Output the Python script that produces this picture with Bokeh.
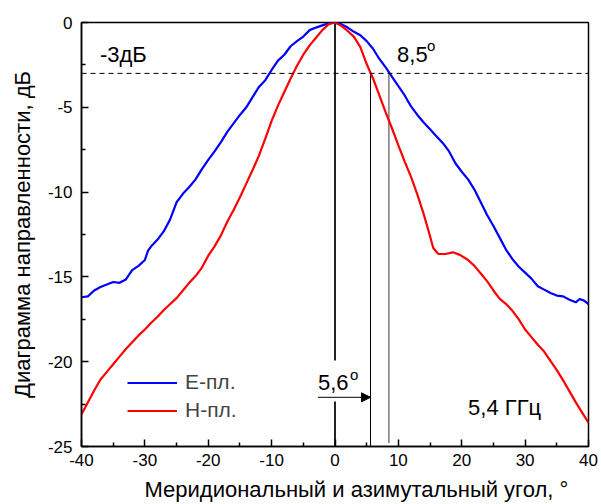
from bokeh.plotting import figure
from bokeh.models import (Range1d, FixedTicker, Legend, LegendItem, Span, Label,
                          Arrow, NormalHead)
from bokeh.embed import file_html
from bokeh.resources import INLINE

# ---- data ----
angle_e = [-40, -39, -38, -37, -36, -35, -34, -33, -32, -31, -30, -29.5, -29, -28, -27,
           -26, -25, -24, -23, -22, -21, -20, -19, -18, -17, -16, -15, -14, -13, -12,
           -11, -10, -9, -8, -7, -6, -5, -4, -3, -2, -1, 0,
           1, 2, 3, 4, 5, 6, 7, 8, 9, 10, 11, 12, 13, 14, 15, 16, 17, 18, 19, 20,
           21, 22, 23, 24, 25, 26, 27, 28, 29, 30, 31, 32, 33, 34, 35, 36, 37, 38,
           38.6, 39.3, 40]
e_plane = [-16.2, -16.15, -15.8, -15.6, -15.45, -15.3, -15.35, -15.15, -14.6, -14.35,
           -14.0, -13.45, -13.2, -12.8, -12.3, -11.6, -10.6, -10.1, -9.7, -9.25, -8.65,
           -8.1, -7.6, -7.05, -6.45, -5.95, -5.45, -5.0, -4.4, -3.8, -3.4, -2.8, -2.25,
           -1.9, -1.4, -1.1, -0.83, -0.45, -0.3, -0.17, -0.05, 0.0,
           -0.1, -0.3, -0.55, -0.75, -1.1, -1.55, -2.15, -2.65, -3.2, -3.75, -4.3,
           -4.95, -5.45, -5.9, -6.3, -6.7, -7.1, -7.6, -8.3, -8.8, -9.25, -9.85, -10.6,
           -11.35, -12.0, -12.7, -13.4, -13.95, -14.4, -14.75, -15.1, -15.55, -15.75,
           -15.95, -16.1, -16.15, -16.35, -16.5, -16.3, -16.4, -16.6]

angle_h = [-40, -39, -38, -37, -36, -35, -34, -33, -32, -31, -30, -29, -28, -27, -26,
           -25, -24, -23, -22, -21, -20, -19, -18, -17, -16, -15, -14, -13, -12, -11,
           -10, -9, -8, -7, -6, -5, -4, -3, -2, -1, 0,
           1, 2, 3, 4, 5, 6, 7, 8, 9, 10, 11, 12, 13, 14, 15, 15.5, 16.3, 17.4, 18.6,
           19.7, 21, 22, 23, 24, 25, 26, 27, 28, 29, 30, 31, 32, 33, 34, 35, 36, 37,
           38, 39, 40]
h_plane = [-23.1, -22.4, -21.7, -21.05, -20.6, -20.15, -19.7, -19.25, -18.85, -18.45,
           -18.1, -17.7, -17.35, -16.95, -16.6, -16.25, -15.8, -15.35, -14.95, -14.45,
           -13.75, -13.2, -12.55, -11.75, -11.05, -10.3, -9.5, -8.7, -7.85, -6.85, -5.8,
           -4.9, -4.1, -3.3, -2.55, -1.9, -1.35, -0.9, -0.45, -0.1, 0.0,
           -0.2, -0.5, -0.85, -1.45, -2.45, -3.3, -4.3, -5.3, -6.25, -7.25, -8.2, -9.1,
           -10.15, -11.3, -12.6, -13.3, -13.65, -13.65, -13.55, -13.7, -14.0, -14.35,
           -14.8, -15.25, -15.8, -16.3, -16.6, -17.0, -17.5, -18.1, -18.55, -19.0,
           -19.4, -19.95, -20.5, -21.1, -21.75, -22.4, -23.0, -23.6]

x_ticks = [-40, -30, -20, -10, 0, 10, 20, 30, 40]
x_tick_labels = ["-40", "-30", "-20", "-10", "0", "10", "20", "30", "40"]
y_ticks = [-25, -20, -15, -10, -5, 0]
y_tick_labels = ["-25", "-20", "-15", "-10", "-5", "0"]

level_3db = -3
width_h = 5.6
width_e = 8.5

FONT = "Liberation Sans"

p = figure(width=601, height=504, output_backend="svg", toolbar_location=None,
           x_range=Range1d(-40, 40), y_range=Range1d(-25, 0),
           min_border_left=81, min_border_right=13, min_border_top=22,
           min_border_bottom=58)
p.background_fill_color = "white"
p.border_fill_color = "white"
p.outline_line_color = "black"
p.outline_line_width = 1.5
p.grid.visible = False

p.xaxis.ticker = FixedTicker(ticks=x_ticks,
                             minor_ticks=[v + 5 for v in x_ticks[:-1]])
p.yaxis.ticker = FixedTicker(ticks=y_ticks,
                             minor_ticks=[v + 2.5 for v in y_ticks[:-1]])
p.xaxis.major_label_overrides = dict(zip(x_ticks, x_tick_labels))
p.yaxis.major_label_overrides = dict(zip(y_ticks, y_tick_labels))

for ax in (p.xaxis[0], p.yaxis[0]):
    ax.axis_line_width = 1.5
    ax.axis_line_color = "black"
    ax.major_tick_line_width = 1.5
    ax.minor_tick_line_width = 1.5
    ax.major_tick_line_color = "black"
    ax.minor_tick_line_color = "black"
    ax.major_tick_in = 7
    ax.major_tick_out = 0
    ax.minor_tick_in = 4
    ax.minor_tick_out = 0
    ax.major_label_text_font = FONT
    ax.major_label_text_font_size = "17px"
    ax.major_label_text_color = "black"
    ax.axis_label_text_font = FONT
    ax.axis_label_text_font_size = "22px"
    ax.axis_label_text_font_style = "normal"
    ax.axis_label_text_color = "black"

p.xaxis.major_label_standoff = 7
p.xaxis.axis_label_standoff = 8
p.yaxis.major_label_standoff = 9
p.yaxis.axis_label_standoff = 10
p.xaxis.axis_label = "\u00a0" * 7 + "Меридиональный и азимутальный угол, °"
p.yaxis.axis_label = "Диаграмма направленности, дБ"

# -3 dB dashed level
p.add_layout(Span(location=level_3db, dimension="width", line_color="black",
                  line_width=1, line_dash="5 4"))

# vertical guide lines
p.segment(x0=[0, 0], y0=[0, -22.35], x1=[0, 0], y1=[-19.93, -25],
          line_color="#222222", line_width=2)
p.segment(x0=[width_h], y0=[level_3db], x1=[width_h], y1=[-25],
          line_color="black", line_width=1)
p.segment(x0=[width_e], y0=[level_3db], x1=[width_e], y1=[-24.8],
          line_color="#7a7a7a", line_width=1.5)

p.add_layout(Arrow(end=NormalHead(size=9, fill_color="black", line_color="black"),
                   x_start=-2.7, y_start=-22.1, x_end=width_h, y_end=-22.1,
                   line_color="black", line_width=1))

re = p.line(angle_e, e_plane, line_color="#0000ff", line_width=2.2)
rh = p.line(angle_h, h_plane, line_color="#ff0000", line_width=2.2)

legend = Legend(items=[LegendItem(label="E-пл.", renderers=[re]),
                       LegendItem(label="H-пл.", renderers=[rh])],
                location=(46, 24), glyph_width=50, glyph_height=23,
                label_height=23, spacing=4, padding=0, margin=0,
                label_standoff=8, label_text_font=FONT,
                label_text_font_size="21px", border_line_color=None,
                background_fill_alpha=0)
p.add_layout(legend)

def add_label(x, y, text, size="22px"):
    p.add_layout(Label(x=x, y=y, text=text, text_font=FONT, text_font_size=size,
                       text_color="black", text_baseline="alphabetic",
                       text_align="left"))

add_label(-37.1, -1.89, "-3дБ")
add_label(9.8, -1.89, "8,5")
add_label(14.5, -1.36, "o", "15px")
add_label(-2.69, -21.23, "5,6")
add_label(2.37, -20.76, "o", "15px")
add_label(21.0, -22.7, "5,4 ГГц")

html = file_html(p, INLINE)
open("out.html", "w").write(html)
